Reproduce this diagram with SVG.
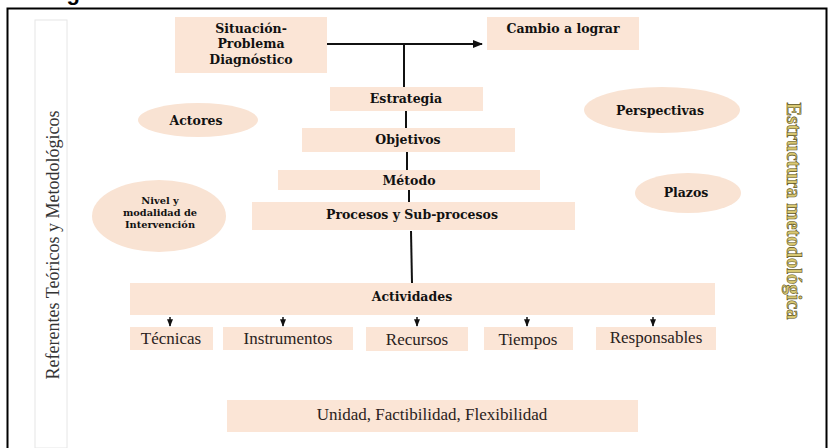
<svg xmlns="http://www.w3.org/2000/svg" width="831" height="448" viewBox="0 0 831 448">
<style>
.box{fill:#fbe5d6;}
.ell{fill:#f9e3d3;}
.b{font-family:"DejaVu Serif","Liberation Serif",serif;font-weight:bold;font-size:12.5px;fill:#111;text-anchor:middle;}
.r{font-family:"Liberation Serif","Times New Roman",serif;font-size:17px;fill:#2a2220;text-anchor:middle;}
.s{font-family:"DejaVu Serif","Liberation Serif",serif;font-weight:bold;font-size:9.8px;fill:#111;text-anchor:middle;}
.ln{stroke:#111;stroke-width:2;fill:none;}
.ar{stroke:#111;stroke-width:1.5;fill:none;}
</style>
<defs>
<marker id="ah" viewBox="0 0 10 10" refX="9" refY="5" markerWidth="5" markerHeight="5" orient="auto"><path d="M0,1 L10,5 L0,9 z" fill="#111"/></marker>
</defs>
<rect width="831" height="448" fill="#fff"/>
<text x="47" y="0" font-family="Liberation Sans,Arial,sans-serif" font-weight="bold" font-size="22" fill="#000">Figura</text>
<rect x="7.5" y="8.5" width="819" height="445" fill="none" stroke="#000" stroke-width="2"/>

<g id="referentes">
<rect x="35" y="20" width="32" height="428" fill="#fff" stroke="#e6e6e6" stroke-width="1"/>
<text transform="translate(59,245) rotate(-90)" font-family="Liberation Serif,'Times New Roman',serif" font-size="18" fill="#333" text-anchor="middle">Referentes Teóricos y Metodológicos</text>
</g>
<g id="estructura">
<text transform="translate(787,211) rotate(90)" font-family="Liberation Serif,'Times New Roman',serif" font-weight="bold" font-size="20.5" fill="#d8c872" stroke="#5c5222" stroke-width="0.6" text-anchor="middle">Estructura metodológica</text>
</g>

<g id="connectors">
<line class="ln" x1="327" y1="44" x2="482" y2="44" marker-end="url(#ah)"/>
<line class="ln" x1="404" y1="44" x2="404" y2="87"/>
<line class="ln" x1="406" y1="111" x2="406" y2="128"/>
<line class="ln" x1="407" y1="152" x2="407" y2="170"/>
<line class="ln" x1="409" y1="190" x2="409" y2="202"/>
<line class="ln" x1="411" y1="231" x2="412" y2="283"/>
<line class="ar" x1="170" y1="317" x2="170" y2="326" marker-end="url(#ah)"/>
<line class="ar" x1="283" y1="317" x2="283" y2="326" marker-end="url(#ah)"/>
<line class="ar" x1="417" y1="317" x2="417" y2="326" marker-end="url(#ah)"/>
<line class="ar" x1="527" y1="317" x2="527" y2="326" marker-end="url(#ah)"/>
<line class="ar" x1="653" y1="317" x2="653" y2="326" marker-end="url(#ah)"/>
</g>

<g id="situacion">
<rect class="box" x="175" y="17" width="152" height="56"/>
<text class="b" x="251" y="33">Situación-</text>
<text class="b" x="251" y="48">Problema</text>
<text class="b" x="251" y="64">Diagnóstico</text>
</g>
<g id="cambio">
<rect class="box" x="487" y="17" width="152" height="33"/>
<text class="b" x="563" y="33">Cambio a lograr</text>
</g>
<g id="estrategia">
<rect class="box" x="330" y="87" width="153" height="24"/>
<text class="b" x="406" y="103">Estrategia</text>
</g>
<g id="objetivos">
<rect class="box" x="302" y="128" width="213" height="24"/>
<text class="b" x="408" y="144">Objetivos</text>
</g>
<g id="metodo">
<rect class="box" x="278" y="170" width="262" height="20"/>
<text class="b" x="409" y="185">Método</text>
</g>
<g id="procesos">
<rect class="box" x="252" y="202" width="323" height="28"/>
<text class="b" x="412" y="219">Procesos y Sub-procesos</text>
</g>
<g id="actores">
<ellipse class="ell" cx="198" cy="120" rx="60" ry="17"/>
<text class="b" x="196" y="125">Actores</text>
</g>
<g id="perspectivas">
<ellipse class="ell" cx="662" cy="110" rx="78" ry="23"/>
<text class="b" x="660" y="115">Perspectivas</text>
</g>
<g id="nivel">
<ellipse class="ell" cx="159" cy="216" rx="67" ry="36"/>
<text class="s" x="160" y="204">Nivel y</text>
<text class="s" x="160" y="216">modalidad de</text>
<text class="s" x="160" y="228">Intervención</text>
</g>
<g id="plazos">
<ellipse class="ell" cx="688" cy="193" rx="53" ry="20"/>
<text class="b" x="686" y="197">Plazos</text>
</g>
<g id="actividades">
<rect class="box" x="130" y="283" width="585" height="32"/>
<text class="b" x="412" y="301">Actividades</text>
</g>
<g id="tecnicas">
<rect class="box" x="130" y="327" width="83" height="23"/>
<text class="r" x="171" y="344">Técnicas</text>
</g>
<g id="instrumentos">
<rect class="box" x="223" y="327" width="130" height="23"/>
<text class="r" x="288" y="344">Instrumentos</text>
</g>
<g id="recursos">
<rect class="box" x="366" y="327" width="102" height="24"/>
<text class="r" x="417" y="345">Recursos</text>
</g>
<g id="tiempos">
<rect class="box" x="484" y="327" width="89" height="23"/>
<text class="r" x="528" y="345">Tiempos</text>
</g>
<g id="responsables">
<rect class="box" x="596" y="327" width="120" height="23"/>
<text class="r" x="656" y="343">Responsables</text>
</g>
<g id="unidad">
<rect class="box" x="227" y="400" width="411" height="32"/>
<text class="r" x="432" y="420">Unidad, Factibilidad, Flexibilidad</text>
</g>
</svg>
